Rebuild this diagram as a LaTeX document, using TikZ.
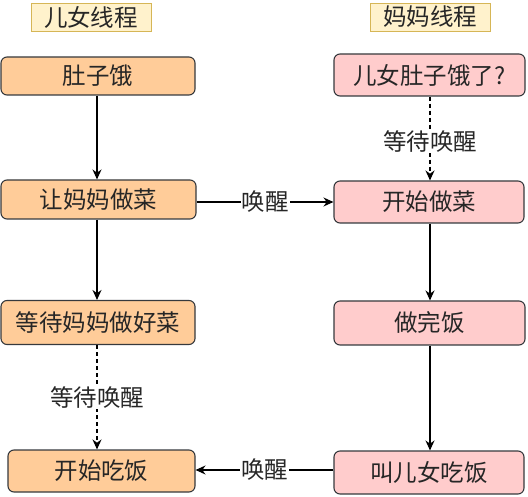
\documentclass[tikz,border=0pt]{standalone}
\usepackage{fontspec}
\setmainfont{Noto Sans CJK SC}
\usetikzlibrary{arrows.meta}
\definecolor{orangefill}{HTML}{FFCC99}
\definecolor{pinkfill}{HTML}{FFCCCC}
\definecolor{boxline}{HTML}{36393D}
\definecolor{titlefill}{HTML}{FFF2CC}
\definecolor{titleline}{HTML}{D6B656}
\begin{document}
\begin{tikzpicture}[x=1pt,y=-1pt,
  every node/.style={font=\fontsize{23.5}{27}\selectfont, text=black!85, inner sep=0pt},
  titlebox/.style={draw=titleline, fill=titlefill, line width=0.8pt, minimum width=120pt, minimum height=28pt},
  kidbox/.style={draw=boxline, fill=orangefill, rounded corners=6pt, line width=1.1pt},
  mombox/.style={draw=boxline, fill=pinkfill, rounded corners=6pt, line width=1.1pt},
  flow/.style={draw=black, line width=1.2pt, -{Stealth[length=10pt,width=9pt]}},
  waitflow/.style={flow, dashed, dash pattern=on 4pt off 3pt},
  lbl/.style={fill=white, inner sep=1pt}]
\useasboundingbox (0,0) rectangle (528,497);
\node[titlebox] (t1) at (91,17) {儿女线程};
\node[titlebox] (t2) at (430,17) {妈妈线程};

\node[kidbox, minimum width=194pt, minimum height=38pt] (a1) at (98,76) {肚子饿};
\node[kidbox, minimum width=195pt, minimum height=39pt] (a2) at (98.5,199.5) {让妈妈做菜};
\node[kidbox, minimum width=194pt, minimum height=44pt] (a3) at (98,322.5) {等待妈妈做好菜};
\node[kidbox, minimum width=187pt, minimum height=42pt] (a4) at (101.5,471) {开始吃饭};

\node[mombox, minimum width=191pt, minimum height=42pt] (b1) at (429.5,75) {儿女肚子饿了?};
\node[mombox, minimum width=190pt, minimum height=42pt] (b2) at (429,202) {开始做菜};
\node[mombox, minimum width=191pt, minimum height=44pt] (b3) at (429.5,323) {做完饭};
\node[mombox, minimum width=190pt, minimum height=43pt] (b4) at (429,472.5) {叫儿女吃饭};

\draw[flow] (a1.south -| 97,0) -- (a2.north -| 97,0);
\draw[flow] (a2.south -| 97,0) -- (a3.north -| 97,0);
\draw[waitflow] (a3.south -| 97,0) -- node[lbl] {等待唤醒} (a4.north -| 97,0);
\draw[waitflow] (b1.south -| 430,0) -- node[lbl, pos=0.53] {等待唤醒} (b2.north -| 430,0);
\draw[flow] (b2.south -| 430,0) -- (b3.north -| 430,0);
\draw[flow] (b3.south -| 430,0) -- (b4.north -| 430,0);
\draw[flow] (a2.east |- 0,202) -- node[lbl, pos=0.5] {唤醒} (b2.west |- 0,202);
\draw[flow] (b4.west |- 0,470) -- node[lbl, pos=0.5] {唤醒} (a4.east |- 0,470);
\end{tikzpicture}
\end{document}
